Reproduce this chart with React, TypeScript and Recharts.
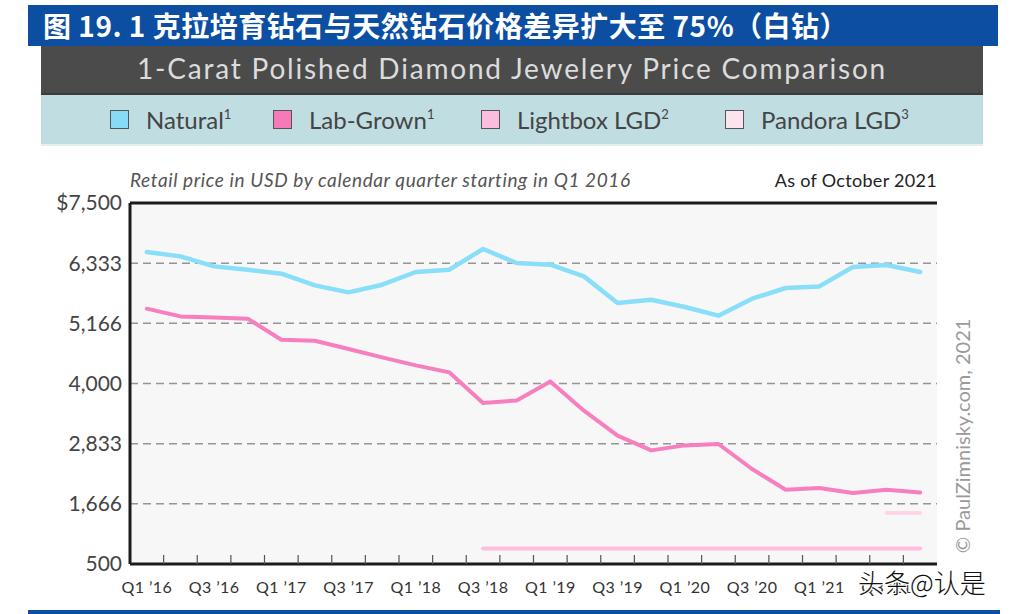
import React from "react";
import {
  LineChart,
  Line,
  XAxis,
  YAxis,
  CartesianGrid,
  ReferenceLine,
} from "recharts";

// quarterly retail price, USD, Q1 2016 .. Q4 2021
const quarters = [
  "Q1 ’16", "Q2 ’16", "Q3 ’16", "Q4 ’16",
  "Q1 ’17", "Q2 ’17", "Q3 ’17", "Q4 ’17",
  "Q1 ’18", "Q2 ’18", "Q3 ’18", "Q4 ’18",
  "Q1 ’19", "Q2 ’19", "Q3 ’19", "Q4 ’19",
  "Q1 ’20", "Q2 ’20", "Q3 ’20", "Q4 ’20",
  "Q1 ’21", "Q2 ’21", "Q3 ’21", "Q4 ’21",
];

const naturalPrice = [
  6550, 6465, 6271, 6207, 6129, 5902, 5767, 5916, 6162, 6207, 6608, 6337,
  6304, 6077, 5561, 5625, 5484, 5315, 5644, 5852, 5883, 6259, 6298, 6162,
];

const labGrownPrice = [
  5451, 5301, 5282, 5257, 4849, 4830, 4669, 4506, 4351, 4215, 3622, 3672,
  4041, 3473, 2988, 2703, 2800, 2827, 2342, 1941, 1974, 1877, 1941, 1888,
];

const lightboxPrice = [
  null, null, null, null, null, null, null, null, null, null, 800, 800,
  800, 800, 800, 800, 800, 800, 800, 800, 800, 800, 800, 800,
];

const pandoraPrice = [
  null, null, null, null, null, null, null, null, null, null, null, null,
  null, null, null, null, null, null, null, null, null, null, 1490, 1490,
];

const priceTicks = [500, 1666, 2833, 4000, 5166, 6333, 7500];
const quarterEdges = [
  0, 1, 2, 3, 4, 5, 6, 7, 8, 9, 10, 11, 12, 13, 14, 15, 16, 17, 18, 19, 20,
  21, 22, 23, 24,
];

const legendItems = [
  { name: "Natural", sup: "1", color: "#86dcf7", left: 110 },
  { name: "Lab-Grown", sup: "1", color: "#f47ab8", left: 273 },
  { name: "Lightbox LGD", sup: "2", color: "#fbbddc", left: 481 },
  { name: "Pandora LGD", sup: "3", color: "#fde3ee", left: 725 },
];

const data = quarters.map((q, i) => ({
  pos: i + 0.5,
  quarter: q,
  natural: naturalPrice[i],
  labGrown: labGrownPrice[i],
  lightbox: lightboxPrice[i],
  pandora: pandoraPrice[i],
}));

const FONT = "Lato, 'Open Sans', sans-serif";
const PLOT_W = 807;
const HALF_BAND = PLOT_W / quarters.length / 2;

function QuarterTick(props: any) {
  const { x, y, payload } = props;
  const v = payload.value as number;
  return (
    <g>
      {v > 0 && v < quarters.length && (
        <line x1={x} x2={x} y1={y} y2={y - 9} stroke="#555" strokeWidth={1.2} />
      )}
      {v % 2 === 0 && v < quarters.length && (
        <text
          x={x + HALF_BAND}
          y={y + 29}
          textAnchor="middle"
          fontSize={16}
          letterSpacing={0.4}
          fill="#333"
          fontFamily={FONT}
        >
          {quarters[v]}
        </text>
      )}
    </g>
  );
}

function formatPrice(v: number) {
  const s = v.toLocaleString("en-US");
  return v === 7500 ? "$" + s : s;
}

export default function App() {
  return (
    <div
      style={{
        position: "absolute",
        left: 0,
        top: 0,
        width: 1012,
        height: 614,
        background: "#fff",
        fontFamily: FONT,
        overflow: "hidden",
      }}
    >
      <div
        style={{
          position: "absolute",
          left: 28,
          top: 5,
          width: 970,
          height: 41,
          background: "#0b4ea2",
          color: "#fff",
          fontFamily: "'Noto Sans CJK SC', sans-serif",
          fontWeight: 700,
          fontSize: 28,
          letterSpacing: 0.5,
          lineHeight: "41px",
          paddingLeft: 15,
          boxSizing: "border-box",
          whiteSpace: "nowrap",
        }}
      >
        图 19. 1 克拉培育钻石与天然钻石价格差异扩大至 75%（白钻）
      </div>

      <div
        style={{
          position: "absolute",
          left: 41,
          top: 46,
          width: 942,
          height: 49,
          background: "#4b4b4b",
          borderBottom: "2px solid #3c3c3c",
          boxSizing: "border-box",
          color: "#dcdcdc",
          fontSize: 28,
          letterSpacing: 1.8,
          lineHeight: "44px",
          textAlign: "center",
          whiteSpace: "nowrap",
        }}
      >
        1-Carat Polished Diamond Jewelery Price Comparison
      </div>

      <div
        style={{
          position: "absolute",
          left: 41,
          top: 95,
          width: 942,
          height: 51,
          background: "#c0dde2",
          borderBottom: "2px solid #e2eef0",
          boxSizing: "border-box",
        }}
      >
        {legendItems.map((it) => (
          <div
            key={it.name}
            style={{
              position: "absolute",
              left: it.left - 41,
              top: 0,
              height: 49,
              display: "flex",
              alignItems: "center",
              whiteSpace: "nowrap",
            }}
          >
            <span
              style={{
                display: "inline-block",
                width: 17,
                height: 17,
                background: it.color,
                border: "1.5px solid #555",
                marginRight: 17,
              }}
            />
            <span style={{ fontSize: 24, color: "#444" }}>
              {it.name}
              <sup style={{ fontSize: 13, verticalAlign: "10px", lineHeight: 0 }}>
                {it.sup}
              </sup>
            </span>
          </div>
        ))}
      </div>

      <div
        style={{
          position: "absolute",
          left: 130,
          top: 168,
          fontSize: 19,
          letterSpacing: 0.6,
          fontStyle: "italic",
          color: "#555",
          whiteSpace: "nowrap",
        }}
      >
        Retail price in USD by calendar quarter starting in Q1 2016
      </div>
      <div
        style={{
          position: "absolute",
          right: 1012 - 937,
          top: 169,
          fontSize: 18,
          letterSpacing: 0.3,
          color: "#222",
          whiteSpace: "nowrap",
        }}
      >
        As of October 2021
      </div>

      <div style={{ position: "absolute", left: 0, top: 0 }}>
        <LineChart
          width={1012}
          height={614}
          data={data}
          margin={{ top: 203, right: 75, bottom: 10, left: 40 }}
        >
          <CartesianGrid
            vertical={false}
            fill="#f7f7f7"
            stroke="#959595"
            strokeWidth={1.5}
            strokeDasharray="8 5"
          />
          <XAxis
            dataKey="pos"
            type="number"
            domain={[0, 24]}
            ticks={quarterEdges}
            interval={0}
            height={40}
            tickSize={0}
            tickMargin={0}
            tickLine={false}
            axisLine={{ stroke: "#1c1c1c", strokeWidth: 3 }}
            tick={<QuarterTick />}
          />
          <YAxis
            type="number"
            domain={[500, 7500]}
            ticks={priceTicks}
            interval={0}
            width={90}
            tickLine={false}
            axisLine={{ stroke: "#1c1c1c", strokeWidth: 3 }}
            tickFormatter={formatPrice}
            tick={{ fontSize: 21, fill: "#444", fontFamily: FONT }}
          />
          <ReferenceLine y={7500} stroke="#1c1c1c" strokeWidth={3} />
          <Line
            dataKey="lightbox"
            stroke="#ffbddf"
            strokeWidth={4}
            dot={false}
            strokeLinecap="round"
            isAnimationActive={false}
          />
          <Line
            dataKey="pandora"
            stroke="#ffd6e9"
            strokeWidth={4}
            dot={false}
            strokeLinecap="round"
            isAnimationActive={false}
          />
          <Line
            dataKey="natural"
            type="linear"
            stroke="#89def9"
            strokeWidth={4.5}
            dot={false}
            strokeLinejoin="round"
            strokeLinecap="round"
            isAnimationActive={false}
          />
          <Line
            dataKey="labGrown"
            type="linear"
            stroke="#f77fbf"
            strokeWidth={4}
            dot={false}
            strokeLinejoin="round"
            strokeLinecap="round"
            isAnimationActive={false}
          />
        </LineChart>
      </div>

      <div
        style={{
          position: "absolute",
          left: 962,
          top: 436,
          transform: "translate(-50%, -50%) rotate(-90deg)",
          fontSize: 20,
          color: "#9a9a9a",
          whiteSpace: "nowrap",
        }}
      >
        © PaulZimnisky.com, 2021
      </div>

      <div
        style={{
          position: "absolute",
          left: 858,
          top: 563,
          fontSize: 26,
          color: "#111",
          fontFamily: "'Noto Sans CJK SC', sans-serif",
          fontWeight: 300,
          whiteSpace: "nowrap",
          textShadow:
            "1px 1px 0 #fff, -1px -1px 0 #fff, 1px -1px 0 #fff, -1px 1px 0 #fff",
        }}
      >
        头条@认是
      </div>

      <div
        style={{
          position: "absolute",
          left: 28,
          top: 610,
          width: 972,
          height: 4,
          background: "#0b4ea2",
        }}
      />
    </div>
  );
}
